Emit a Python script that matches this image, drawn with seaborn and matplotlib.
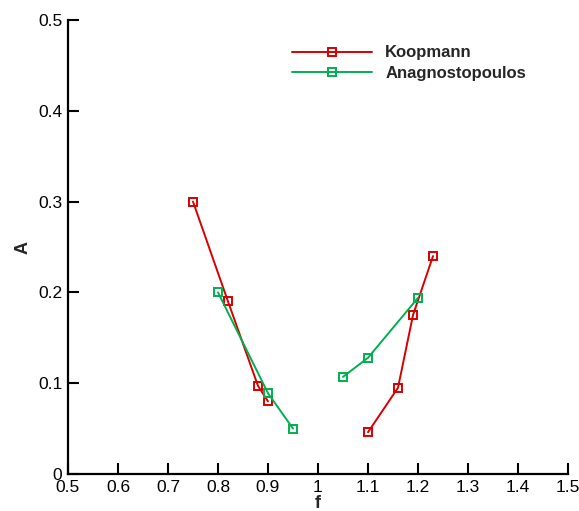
import matplotlib
matplotlib.use("Agg")
import matplotlib.pyplot as plt
import seaborn as sns
import pandas as pd
from matplotlib.ticker import FuncFormatter

# ---- data ----
series_names = ["Koopmann", "Anagnostopoulos"]
koop_f_low = [0.75, 0.82, 0.88, 0.90]
koop_A_low = [0.30, 0.19, 0.097, 0.08]
koop_f_high = [1.10, 1.16, 1.19, 1.23]
koop_A_high = [0.046, 0.095, 0.175, 0.24]
anag_f_low = [0.80, 0.90, 0.95]
anag_A_low = [0.20, 0.089, 0.05]
anag_f_high = [1.05, 1.10, 1.20]
anag_A_high = [0.107, 0.128, 0.194]
x_ticks = [0.5, 0.6, 0.7, 0.8, 0.9, 1.0, 1.1, 1.2, 1.3, 1.4, 1.5]
y_ticks = [0, 0.1, 0.2, 0.3, 0.4, 0.5]

colors = {"Koopmann": "#d80000", "Anagnostopoulos": "#00b050"}

branches = [
    ("Koopmann", koop_f_low, koop_A_low),
    ("Koopmann", koop_f_high, koop_A_high),
    ("Anagnostopoulos", anag_f_low, anag_A_low),
    ("Anagnostopoulos", anag_f_high, anag_A_high),
]

sns.set_style("ticks")
plt.rcParams["font.family"] = ["Liberation Sans", "DejaVu Sans"]

fig = plt.figure(figsize=(5.79, 5.11), dpi=100)
ax = fig.add_axes([68 / 579, 1 - 474 / 511, 500 / 579, 454 / 511])

seen = set()
for name, fx, ay in branches:
    df = pd.DataFrame({"f": fx, "A": ay})
    lab = name if name not in seen else "_" + name
    seen.add(name)
    c = colors[name]
    sns.lineplot(data=df, x="f", y="A", ax=ax, sort=False, estimator=None,
                 color=c, marker="s", markersize=6, markerfacecolor="none",
                 markeredgecolor=c, markeredgewidth=1.4, linewidth=1.4,
                 label=lab)

ax.set_xlim(0.5, 1.5)
ax.set_ylim(0, 0.5)
ax.set_xticks(x_ticks)
ax.set_yticks(y_ticks)
fmt = FuncFormatter(lambda v, p: "{:g}".format(round(v, 3)))
ax.xaxis.set_major_formatter(fmt)
ax.yaxis.set_major_formatter(fmt)
ax.tick_params(direction="in", length=8, width=1.5, labelsize=12.5, pad=4,
               colors="black")
for s in ["top", "right"]:
    ax.spines[s].set_visible(False)
for s in ["left", "bottom"]:
    ax.spines[s].set_linewidth(1.6)
    ax.spines[s].set_color("black")

ax.set_xlabel("f", fontsize=13, fontweight="bold", labelpad=0)
ax.set_ylabel("A", fontsize=13, fontweight="bold", labelpad=4.5)

leg = ax.legend(loc="upper left", bbox_to_anchor=(0.418, 0.977), frameon=False,
                handlelength=4.8, handletextpad=0.8, labelspacing=0.35,
                prop={"weight": "bold", "size": 12})

fig.savefig("out.png", dpi=100)
